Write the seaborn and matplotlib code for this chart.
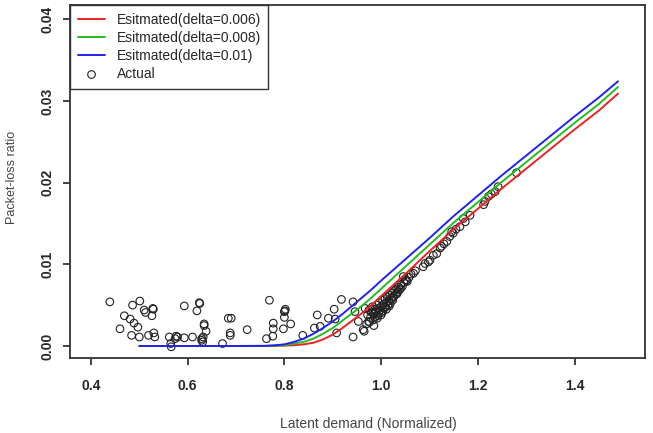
import numpy as np
import pandas as pd
import matplotlib
matplotlib.use("Agg")
import matplotlib.pyplot as plt
import seaborn as sns

# Estimated curves
curve_x = [0.50, 0.60, 0.70, 0.76, 0.78, 0.80, 0.82, 0.84, 0.86, 0.88, 0.90, 0.92, 0.94,
           0.96, 0.98, 1.00, 1.05, 1.10, 1.15, 1.20, 1.25, 1.30, 1.35, 1.40, 1.45, 1.49]
est_006 = [0.0, 0.0, 0.0, 0.0, 0.00002, 0.00005, 0.0001, 0.0002, 0.0004, 0.0008, 0.0014, 0.0022, 0.0031,
           0.0040, 0.0050, 0.0061, 0.0088, 0.0116, 0.0143, 0.0168, 0.0193, 0.0217, 0.0241, 0.0265,
           0.0288, 0.0309]
est_008 = [0.0, 0.0, 0.0, 0.0, 0.00004, 0.0001, 0.0003, 0.0005, 0.0009, 0.0015, 0.0022, 0.0031, 0.0040,
           0.0049, 0.0059, 0.0070, 0.0097, 0.0124, 0.0151, 0.0176, 0.0201, 0.0225, 0.0249, 0.0273,
           0.0296, 0.0317]
est_010 = [0.0, 0.0, 0.0, 0.00002, 0.00008, 0.0002, 0.0005, 0.0009, 0.0015, 0.0022, 0.0030, 0.0039, 0.0049,
           0.0059, 0.0069, 0.0080, 0.0106, 0.0132, 0.0159, 0.0184, 0.0209, 0.0233, 0.0257, 0.0281,
           0.0304, 0.0324]

# Measured packet-loss ratio
actual_x = [0.439, 0.460, 0.469, 0.481, 0.486, 0.489, 0.484, 0.497, 0.500, 0.501, 0.510, 0.513,
            0.519, 0.526, 0.529, 0.530, 0.532, 0.528, 0.562, 0.565, 0.566, 0.574, 0.579, 0.576,
            0.593, 0.593, 0.610, 0.619, 0.624, 0.625, 0.629, 0.632, 0.634, 0.634, 0.638, 0.629,
            0.631, 0.672, 0.684, 0.690, 0.688, 0.688, 0.723, 0.763, 0.769, 0.776, 0.777, 0.777,
            0.800, 0.802, 0.800, 0.798, 0.813, 0.801, 0.838, 0.862, 0.868, 0.874, 0.891, 0.903,
            0.918, 0.905, 0.908, 0.942, 0.942, 0.946, 0.953, 0.963, 0.967, 0.974, 0.965, 0.970,
            0.985, 0.972, 0.975, 0.978, 0.980, 0.982, 0.984, 0.985, 0.987, 0.988, 0.990, 0.991,
            0.992, 0.994, 0.995, 0.996, 0.998, 1.000, 1.001, 1.003, 1.004, 1.005, 1.007, 1.008,
            1.010, 1.011, 1.013, 1.014, 1.016, 1.018, 1.019, 1.021, 1.023, 1.024, 1.026, 1.028,
            1.030, 1.032, 1.034, 1.036, 1.038, 1.041, 1.044, 1.047, 1.050, 1.054, 1.058, 1.062,
            1.067, 1.071, 1.046, 1.087, 1.091, 1.098, 1.101, 1.108, 1.115, 1.122, 1.125, 1.130,
            1.136, 1.142, 1.146, 1.149, 1.155, 1.163, 1.170, 1.174, 1.184, 1.212, 1.215, 1.222,
            1.228, 1.236, 1.242, 1.280,
            0.976, 0.983, 0.993, 1.002, 1.009, 1.017, 1.025, 1.033, 1.040, 1.052]
actual_y = [0.0054, 0.0021, 0.0037, 0.0033, 0.0050, 0.0028, 0.0013, 0.0023, 0.0011, 0.0055, 0.0044, 0.0041,
            0.0013, 0.0037, 0.0045, 0.0016, 0.0011, 0.0046, 0.0011, 0.0003, -0.0001, 0.0009, 0.0011, 0.0012,
            0.0010, 0.0049, 0.0011, 0.0043, 0.0053, 0.0052, 0.0009, 0.0011, 0.0027, 0.0025, 0.0018, 0.0007,
            0.0005, 0.0003, 0.0034, 0.0034, 0.0016, 0.0013, 0.0020, 0.0009, 0.0056, 0.0012, 0.0021, 0.0028,
            0.0042, 0.0045, 0.0035, 0.0021, 0.0027, 0.0043, 0.0013, 0.0022, 0.0038, 0.0024, 0.0034, 0.0045,
            0.0057, 0.0033, 0.0016, 0.0054, 0.0011, 0.0042, 0.0030, 0.0020, 0.0046, 0.0030, 0.0018, 0.0027,
            0.0025, 0.0038, 0.0044, 0.0035, 0.0041, 0.0048, 0.0032, 0.0039, 0.0045, 0.0036, 0.0042, 0.0050,
            0.0034, 0.0046, 0.0040, 0.0053, 0.0044, 0.0038, 0.0049, 0.0056, 0.0043, 0.0051, 0.0047, 0.0058,
            0.0053, 0.0045, 0.0060, 0.0050, 0.0055, 0.0062, 0.0052, 0.0058, 0.0065, 0.0056, 0.0061, 0.0068,
            0.0063, 0.0070, 0.0066, 0.0072, 0.0069, 0.0075, 0.0073, 0.0078, 0.0081, 0.0079, 0.0084, 0.0088,
            0.0089, 0.0092, 0.0085, 0.0097, 0.0101, 0.0103, 0.0105, 0.0111, 0.0113, 0.0120, 0.0122, 0.0125,
            0.0128, 0.0134, 0.0140, 0.0138, 0.0143, 0.0146, 0.0156, 0.0152, 0.0160, 0.0173, 0.0177, 0.0183,
            0.0186, 0.0189, 0.0195, 0.0212,
            0.0029, 0.0041, 0.0037, 0.0041, 0.0048, 0.0049, 0.0059, 0.0064, 0.0070, 0.0080]

x_ticks = [0.4, 0.6, 0.8, 1.0, 1.2, 1.4]
y_ticks = [0.00, 0.01, 0.02, 0.03, 0.04]

sns.set_style("white")
plt.rcParams['font.family'] = ['Liberation Sans', 'DejaVu Sans']

fig = plt.figure(figsize=(6.53, 4.33), dpi=100)
ax = fig.add_axes([70 / 653, 1 - 358 / 433, 575 / 653, 353 / 433])

# points first, curves on top
sns.scatterplot(x=actual_x, y=actual_y, ax=ax, marker='o', s=30, facecolor='none',
                edgecolor='#222222', linewidth=0.8, label='Actual', zorder=2)
sns.lineplot(x=curve_x, y=est_006, ax=ax, color='#ee2222', linewidth=1.4,
             label='Esitmated(delta=0.006)', zorder=3)
sns.lineplot(x=curve_x, y=est_008, ax=ax, color='#22bb22', linewidth=1.4,
             label='Esitmated(delta=0.008)', zorder=3)
sns.lineplot(x=curve_x, y=est_010, ax=ax, color='#2222ee', linewidth=1.4,
             label='Esitmated(delta=0.01)', zorder=3)

ax.set_xlim(0.3566, 1.5458)
ax.set_ylim(-0.00147, 0.04174)
ax.set_xticks(x_ticks)
ax.set_xticklabels(['0.4', '0.6', '0.8', '1.0', '1.2', '1.4'], fontweight='bold', fontsize=10)
ax.set_yticks(y_ticks)
ax.set_yticklabels(['0.00', '0.01', '0.02', '0.03', '0.04'], fontweight='bold', fontsize=10,
                   rotation=90, va='center')
ax.tick_params(axis='both', direction='out', length=5, width=1.2, color='#222222',
               bottom=True, left=True)
ax.tick_params(axis='x', pad=10)
ax.tick_params(axis='y', pad=6.5)
for sp in ax.spines.values():
    sp.set_color('#333333')
    sp.set_linewidth(1.3)
ax.set_xlabel('')
ax.set_ylabel('')

fig.text(368 / 653, 1 - 424 / 433, 'Latent demand (Normalized)', ha='center', va='center',
         fontsize=10, color='#444444')
fig.text(12 / 653, 1 - 177 / 433, 'Packet-loss ratio', ha='center', va='center',
         rotation=90, fontsize=9, color='#444444')

handles, labels = ax.get_legend_handles_labels()
order = [labels.index(l) for l in ['Esitmated(delta=0.006)', 'Esitmated(delta=0.008)',
                                    'Esitmated(delta=0.01)', 'Actual']]
leg = ax.legend([handles[i] for i in order], [labels[i] for i in order], loc='upper left',
                bbox_to_anchor=(0, 1), borderaxespad=0, fancybox=False, framealpha=1,
                edgecolor='#333333', fontsize=10, handlelength=2.0, handletextpad=0.8,
                labelspacing=0.3, borderpad=0.55)
leg.get_frame().set_linewidth(1.0)

fig.savefig('out.png', dpi=100)
